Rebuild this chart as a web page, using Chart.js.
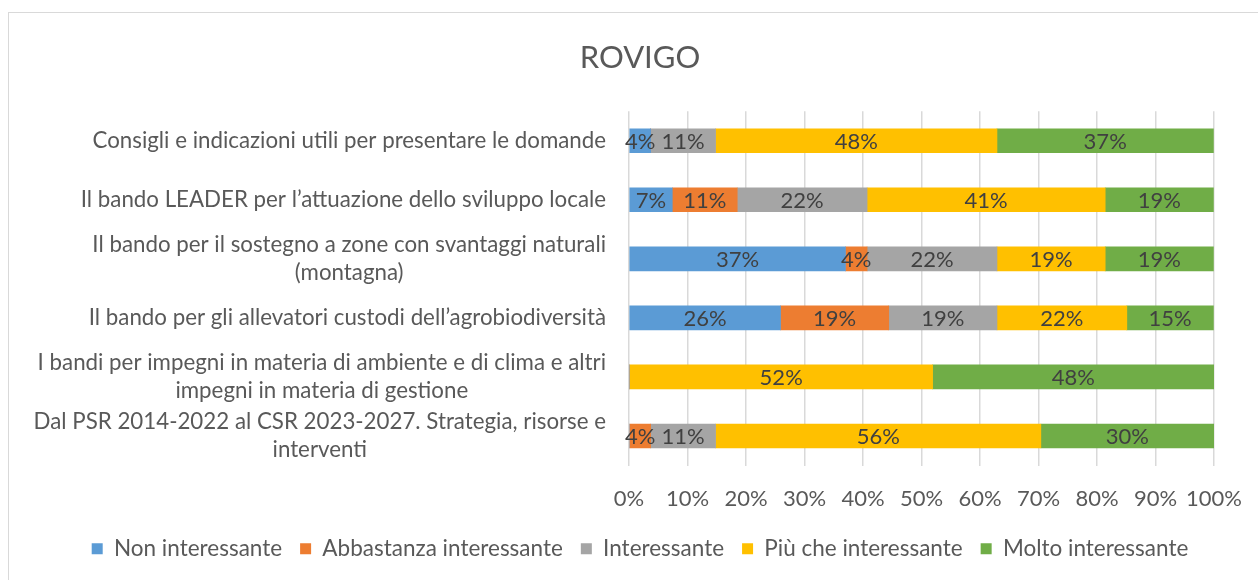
<!DOCTYPE html>
<html>
<head>
<meta charset="utf-8">
<script src="https://cdn.jsdelivr.net/npm/chart.js@4/dist/chart.umd.min.js"></script>
<style>
  html, body { margin: 0; padding: 0; background: #fff; overflow: hidden; }
  #box { position: absolute; left: 8px; top: 12px; width: 1249px; height: 567px;
         border-left: 1px solid #d9d9d9; border-top: 1px solid #d9d9d9; }
</style>
</head>
<body>
<div id="box"><canvas id="myBar"></canvas></div>
<script>
var categories = [
    'Consigli e indicazioni utili per presentare le domande',
    'Il bando LEADER per l\u2019attuazione dello sviluppo locale',
    ['Il bando per il sostegno a zone con svantaggi naturali', '(montagna)'],
    'Il bando per gli allevatori custodi dell\u2019agrobiodiversit\u00e0',
    ['I bandi per impegni in materia di ambiente e di clima e altri', 'impegni in materia di gestione'],
    ['Dal PSR 2014-2022 al CSR 2023-2027. Strategia, risorse e', 'interventi']
];
var seriesNames = ['Non interessante', 'Abbastanza interessante', 'Interessante', 'Pi\u00f9 che interessante', 'Molto interessante'];
var nonInteressante = [3.7, 7.4, 37.0, 25.9, 0, 0];
var abbastanza = [0, 11.1, 3.7, 18.5, 0, 3.7];
var interessante = [11.1, 22.2, 22.2, 18.5, 0, 11.1];
var piuChe = [48.1, 40.7, 18.5, 22.2, 51.9, 55.6];
var molto = [37.0, 18.5, 18.5, 14.8, 48.1, 29.6];
var xTicks = [0, 10, 20, 30, 40, 50, 60, 70, 80, 90, 100];

var colors = ['#5B9BD5', '#ED7D31', '#A5A5A5', '#FFC000', '#70AD47'];
var FONT = 'Lato';

// percent labels in the middle of each segment
var valueLabels = {
    id: 'valueLabels',
    afterDatasetsDraw: (chart) => {
        var ctx = chart.ctx;
        ctx.save();
        ctx.font = '22px ' + FONT;
        ctx.fillStyle = '#404040';
        ctx.textAlign = 'center';
        ctx.textBaseline = 'middle';
        chart.data.datasets.forEach((ds, i) => {
            chart.getDatasetMeta(i).data.forEach((bar, j) => {
                var v = ds.data[j];
                if (!v) return;
                var p = bar.getCenterPoint();
                ctx.fillText(Math.round(v) + '%', p.x, p.y + 1);
            });
        });
        ctx.restore();
    }
};

// category labels: block right aligned, lines centred on each other
var catLabels = {
    id: 'catLabels',
    afterDraw: (chart) => {
        var ctx = chart.ctx;
        var scale = chart.scales.y;
        var lh = 28.5;
        ctx.save();
        ctx.font = '22.3px ' + FONT;
        ctx.fillStyle = '#595959';
        ctx.textAlign = 'center';
        ctx.textBaseline = 'middle';
        categories.forEach((c, i) => {
            var lines = Array.isArray(c) ? c : [c];
            var w = Math.max.apply(null, lines.map(t => ctx.measureText(t).width));
            var cx = scale.right - 23 - w / 2;
            var y = scale.getPixelForValue(i);
            lines.forEach((t, k) => {
                ctx.fillText(t, cx, y + (k - (lines.length - 1) / 2) * lh);
            });
        });
        ctx.restore();
    }
};

var datasets = [nonInteressante, abbastanza, interessante, piuChe, molto].map((d, i) => ({
    label: seriesNames[i],
    data: d,
    backgroundColor: colors[i],
    borderWidth: 0,
    barThickness: 24
}));

var myChart = new Chart(document.getElementById('myBar').getContext('2d'), {
    type: 'bar',
    data: { labels: categories, datasets: datasets },
    plugins: [valueLabels, catLabels],
    options: {
        indexAxis: 'y',
        responsive: true,
        maintainAspectRatio: false,
        animation: false,
        layout: { padding: { left: 57, right: 44, top: 0, bottom: 10 } },
        plugins: {
            title: {
                display: true,
                text: 'ROVIGO',
                color: '#595959',
                font: { family: FONT, size: 31, weight: 'normal' },
                padding: { top: 26, bottom: 35 }
            },
            legend: {
                position: 'bottom',
                labels: {
                    color: '#595959',
                    font: { family: FONT, size: 22.5 },
                    boxWidth: 11,
                    boxHeight: 11,
                    padding: 18
                }
            },
            tooltip: { enabled: false }
        },
        scales: {
            x: {
                stacked: true,
                min: 0,
                max: 100,
                afterBuildTicks: (s) => { s.ticks = xTicks.map(v => ({ value: v })); },
                afterFit: (s) => { s.height = 54; },
                grid: { color: '#d9d9d9', lineWidth: 1.5, drawTicks: true, tickLength: 17, tickColor: 'rgba(0,0,0,0)' },
                border: { display: false },
                ticks: {
                    color: '#595959',
                    font: { family: FONT, size: 22 },
                    padding: 3,
                    maxRotation: 0,
                    minRotation: 0,
                    autoSkip: false,
                    callback: (v) => v + '%'
                }
            },
            y: {
                stacked: true,
                afterFit: (s) => { s.width = 563; },
                grid: { display: false },
                border: { display: false },
                ticks: { display: false }
            }
        }
    }
});
</script>
</body>
</html>
